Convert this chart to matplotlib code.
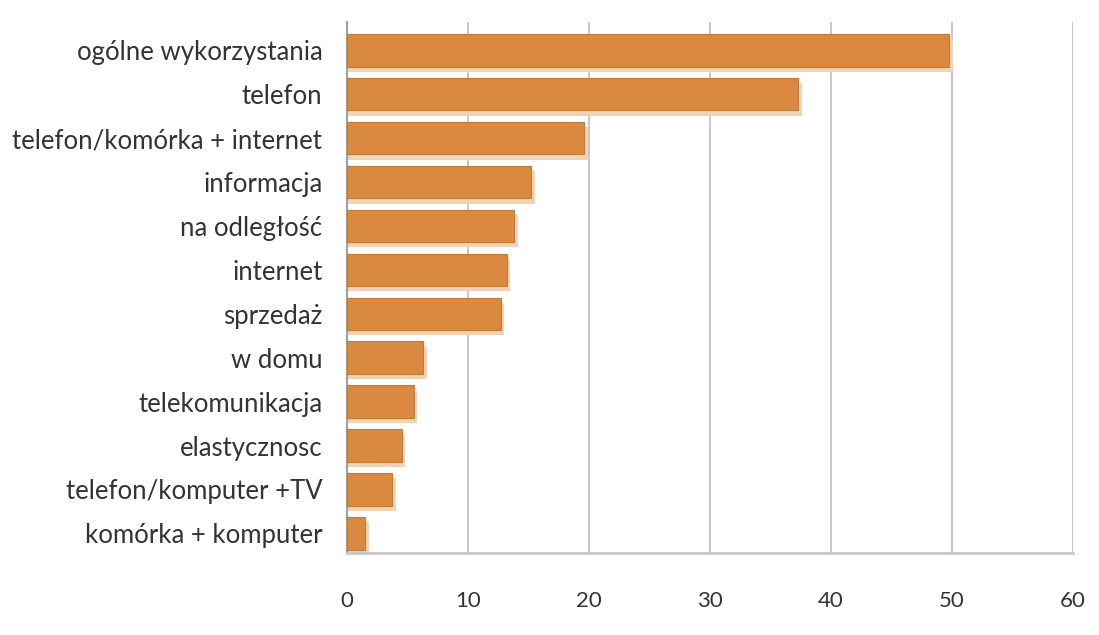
# coding:utf-8
# wykres słupkowy poziomy - skojarzenia
from matplotlib import pyplot as plt

plt.rcParams['font.family'] = ['Lato', 'DejaVu Sans']

labels = [u'ogólne wykorzystania', u'telefon', u'telefon/komórka + internet',
          u'informacja', u'na odległość', u'internet', u'sprzedaż', u'w domu',
          u'telekomunikacja', u'elastycznosc', u'telefon/komputer +TV',
          u'komórka + komputer']
values = [49.8, 37.3, 19.6, 15.2, 13.8, 13.2, 12.7, 6.3, 5.5, 4.5, 3.7, 1.5]
ticks = [0, 10, 20, 30, 40, 50, 60]

fig = plt.figure(figsize=(10.99, 6.35), dpi=100)
ax = fig.add_axes([0.316, 0.129, 0.66, 0.836])

pos = list(range(len(labels)))
# cień pod słupkami
ax.barh([p + 0.12 for p in pos], [v + 0.3 for v in values], height=0.74,
        color='#efd3b5', zorder=2)
ax.barh(pos, values, height=0.74, color='#d98a40', edgecolor='#c47a35',
        linewidth=0.8, zorder=3)

ax.set_xlim(0, 60)
ax.set_ylim(11.45, -0.64)
ax.set_xticks(ticks)
ax.set_yticks(pos)
ax.set_yticklabels(labels, fontsize=18.5, color='#333333')
ax.tick_params(axis='x', length=0, pad=27, labelsize=16, labelcolor='#333333')
ax.tick_params(axis='y', length=0, pad=18)

ax.grid(axis='x', color='#bfbfbf', linewidth=1.2, zorder=0)
ax.set_axisbelow(True)
for s in ['top', 'right']:
    ax.spines[s].set_visible(False)
ax.spines['left'].set_color('#a0a0a0')
ax.spines['left'].set_linewidth(1.5)
ax.spines['bottom'].set_color('#c8c8c8')
ax.spines['bottom'].set_linewidth(2)

plt.savefig('out.png', dpi=100)
